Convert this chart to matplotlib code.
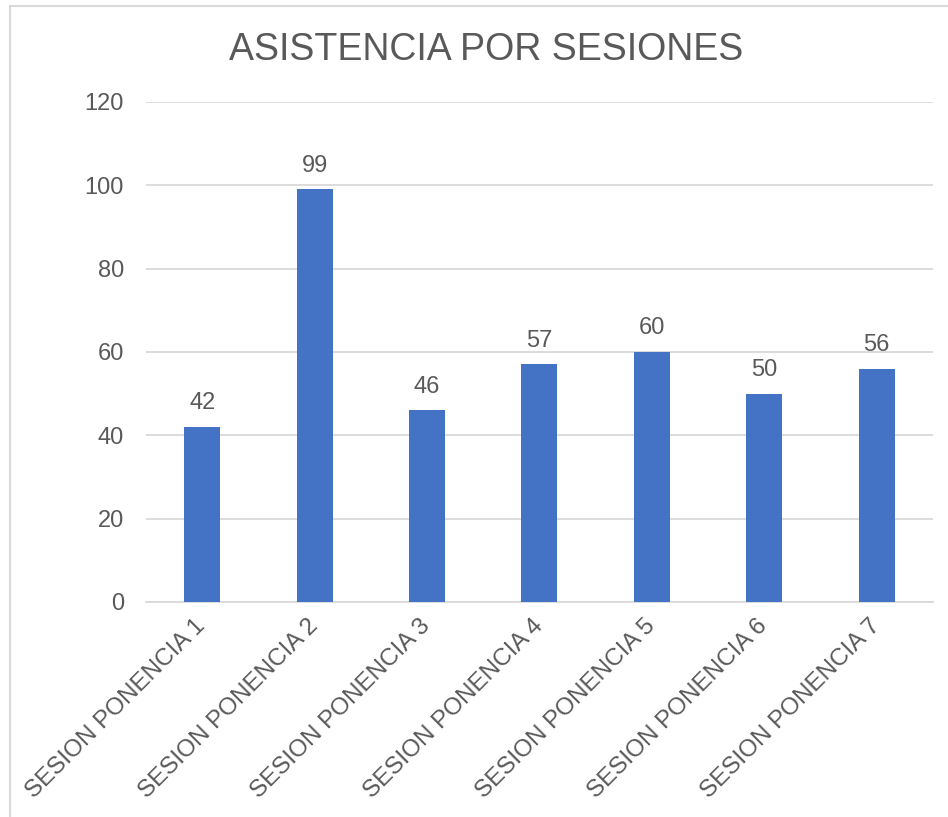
import matplotlib.pyplot as plt
from matplotlib.lines import Line2D

plt.rcParams['font.family'] = ['Liberation Sans', 'DejaVu Sans']

sesiones = ['SESION PONENCIA 1', 'SESION PONENCIA 2', 'SESION PONENCIA 3',
            'SESION PONENCIA 4', 'SESION PONENCIA 5', 'SESION PONENCIA 6',
            'SESION PONENCIA 7']
asistencia = [42, 99, 46, 57, 60, 50, 56]
yticks = [0, 20, 40, 60, 80, 100, 120]

text_color = '#595959'
grid_color = '#D9D9D9'
bar_color = '#4472C4'

fig = plt.figure(figsize=(9.48, 8.17), dpi=100)
ax = fig.add_axes([0.154, 0.2632, 0.830, 0.612])

x = list(range(len(sesiones)))
bars = ax.bar(x, asistencia, width=0.32, color=bar_color, zorder=3)

# value labels above each bar
for xi, v in zip(x, asistencia):
    ax.annotate(str(v), (xi, v), xytext=(0, 9), textcoords='offset points',
                ha='center', va='bottom', fontsize=17, color=text_color)

ax.set_xlim(-0.5, len(sesiones) - 0.5)
ax.set_ylim(0, 120)
ax.set_yticks(yticks)
ax.set_xticks(x)
ax.set_xticklabels(sesiones, rotation=45, ha='right', va='center',
                   rotation_mode='anchor', fontsize=17.5)

ax.grid(axis='y', color=grid_color, linewidth=1.3, zorder=0)
ax.tick_params(axis='y', length=0, pad=16, labelsize=17, labelcolor=text_color)
ax.tick_params(axis='x', length=0, pad=15, labelcolor=text_color)
for side in ['top', 'right', 'left']:
    ax.spines[side].set_visible(False)
ax.spines['bottom'].set_color(grid_color)
ax.spines['bottom'].set_linewidth(1.3)

fig.text(0.513, 0.939, 'ASISTENCIA POR SESIONES', ha='center', va='center',
         fontsize=27, color=text_color)

# chart frame (cut at right and bottom in the original)
fig.add_artist(Line2D([0.0105, 0.0105], [0, 0.9927], color=grid_color, linewidth=1.5))
fig.add_artist(Line2D([0.0105, 1], [0.9927, 0.9927], color=grid_color, linewidth=1.5))

fig.savefig('out.png', dpi=100)
